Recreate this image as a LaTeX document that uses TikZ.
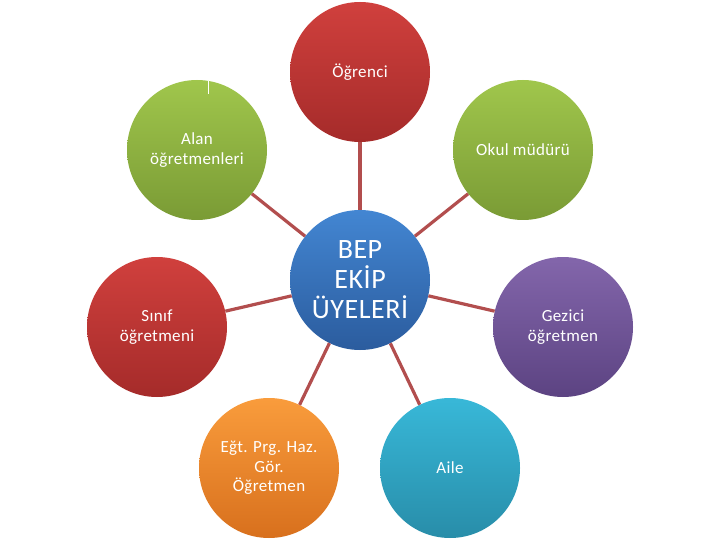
\documentclass[tikz,border=0pt]{standalone}
\usepackage{fontspec}
\setmainfont{Carlito}[LetterSpace=2]
\definecolor{linkc}{HTML}{B24E4E}
\definecolor{redT}{HTML}{D0403D}
\definecolor{redB}{HTML}{A52B2A}
\definecolor{grnT}{HTML}{A0C64C}
\definecolor{grnB}{HTML}{7A9B35}
\definecolor{bluT}{HTML}{4386D2}
\definecolor{bluB}{HTML}{2B5C9E}
\definecolor{purT}{HTML}{8366AB}
\definecolor{purB}{HTML}{5C4382}
\definecolor{cyaT}{HTML}{38B8D8}
\definecolor{cyaB}{HTML}{288DA9}
\definecolor{orgT}{HTML}{F99C3C}
\definecolor{orgB}{HTML}{D8701D}
\tikzset{
  bubble/.style={circle, minimum size=140pt, inner sep=0pt, align=center,
    text=white, font=\fontsize{17}{19.5}\selectfont},
  hub/.style={bubble, font=\fontsize{28}{30}\selectfont},
  redb/.style={top color=redT, bottom color=redB},
  grnb/.style={top color=grnT, bottom color=grnB},
  blub/.style={top color=bluT, bottom color=bluB},
  purb/.style={top color=purT, bottom color=purB},
  cyab/.style={top color=cyaT, bottom color=cyaB},
  orgb/.style={top color=orgT, bottom color=orgB},
  link/.style={draw=linkc, line width=3.2pt}
}
\begin{document}
\begin{tikzpicture}[x=1pt,y=-1pt]
\useasboundingbox (0,0) rectangle (720,540);
\node[hub, blub] (bep) at (360,280) {BEP\\EKİP\\ÜYELERİ};
\node[bubble, redb] (ogr) at (360,72) {Öğrenci};
\node[bubble, grnb] (alan) at (197,150) {Alan\\öğretmenleri};
\node[bubble, grnb] (okul) at (523,150) {Okul müdürü};
\node[bubble, redb] (sinif) at (157,327) {Sınıf\\öğretmeni};
\node[bubble, purb] (gez) at (563,327) {Gezici\\öğretmen};
\node[bubble, orgb] (egt) at (269,468) {Eğt. Prg. Haz.\\Gör.\\Öğretmen};
\node[bubble, cyab] (aile) at (450,468) {Aile};
\foreach \s in {ogr,alan,okul,sinif,gez,egt,aile}
  \draw[link] (bep) -- (\s);
\coordinate (tickA) at (208,81);
\coordinate (tickB) at (208,94);
\draw[white, line width=0.8pt] (tickA) -- (tickB);
\end{tikzpicture}
\end{document}
